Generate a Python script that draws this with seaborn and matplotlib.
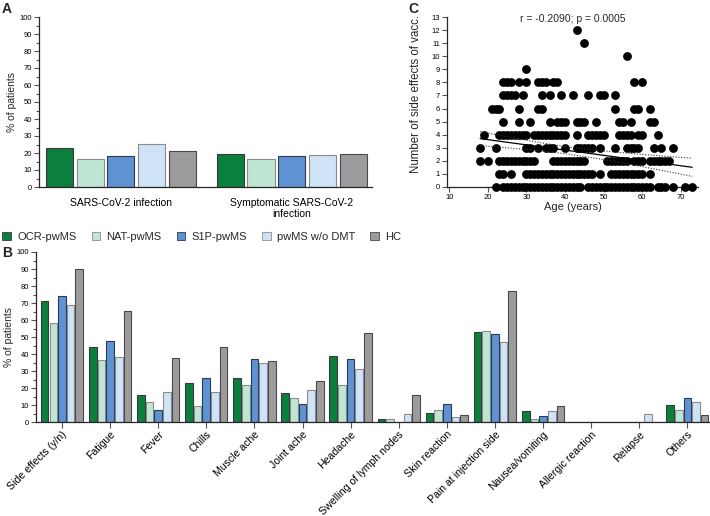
import numpy as np
import pandas as pd
import seaborn as sns
import matplotlib.pyplot as plt
from matplotlib.patches import Patch
from matplotlib.ticker import MultipleLocator

# Groups and colours
groups = ['OCR-pwMS', 'NAT-pwMS', 'S1P-pwMS', 'pwMS w/o DMT', 'HC']
colors = ['#0b7f3e', '#bfe6d3', '#5f92d3', '#cfe3f7', '#9c9c9e']
edges = ['#3a3a3a', '#8c8c8c', '#2a3a55', '#8c8c8c', '#4a4a4a']

# Panel A: SARS-CoV-2 infections (% of patients)
infection_cats = ['SARS-CoV-2 infection', 'Symptomatic SARS-CoV-2\ninfection']
infection_vals = {
    'OCR-pwMS': [23.2, 19.5],
    'NAT-pwMS': [16.5, 16.5],
    'S1P-pwMS': [18.3, 18.3],
    'pwMS w/o DMT': [25.2, 18.8],
    'HC': [21.0, 19.5],
}

# Panel B: side effects of vaccination (% of patients)
side_effect_cats = ['Side effects (y/n)', 'Fatigue', 'Fever', 'Chills', 'Muscle ache',
                    'Joint ache', 'Headache', 'Swelling of lymph nodes', 'Skin reaction',
                    'Pain at injection side', 'Nausea/vomiting', 'Allergic reaction',
                    'Relapse', 'Others']
side_effect_vals = {
    'OCR-pwMS': [71, 44.5, 16, 23, 26, 17, 39, 2, 5.5, 53, 6.5, 0, 0, 10],
    'NAT-pwMS': [58.5, 36.5, 12, 9.5, 22, 14.5, 22, 2, 7, 53.5, 2, 0, 0, 7],
    'S1P-pwMS': [74, 48, 7, 26, 37, 11, 37, 0, 11, 52, 3.5, 0, 0, 14.5],
    'pwMS w/o DMT': [69, 38.5, 17.5, 17.5, 35, 19, 31.5, 5, 3, 47, 6.5, 0, 5, 12],
    'HC': [90, 65.5, 37.5, 44, 36, 24.5, 52.5, 16, 4.5, 77, 9.5, 0, 0, 4.5],
}

# Panel C: number of side effects vs. age, ages listed per count
ages_by_count = [
    [22, 24, 25, 26, 27, 28, 29, 30, 31, 32, 33, 34, 35, 36, 37, 38, 39, 40, 41, 42,
     43, 44, 46, 47, 48, 49, 50, 51, 52, 53, 54, 55, 56, 57, 58, 59, 60, 61, 62, 64,
     65, 66, 68, 71, 73],
    [23, 24, 26, 30, 31, 32, 33, 34, 35, 36, 37, 38, 39, 40, 41, 42, 43, 44, 45, 46,
     47, 49, 52, 53, 54, 55, 56, 57, 58, 59, 60, 62],
    [18, 20, 23, 24, 25, 26, 27, 28, 29, 30, 31, 32, 37, 38, 39, 40, 41, 42, 43, 44,
     45, 51, 52, 53, 54, 55, 56, 58, 59, 60, 62, 63, 64, 65, 66, 67],
    [18, 22, 30, 31, 33, 35, 36, 37, 40, 43, 44, 45, 46, 47, 49, 53, 56, 57, 58, 59,
     63, 65, 68],
    [19, 23, 24, 25, 26, 27, 28, 29, 30, 32, 33, 34, 35, 36, 37, 38, 39, 40, 43, 46,
     47, 48, 49, 50, 54, 55, 56, 57, 59, 60, 64],
    [24, 28, 31, 36, 38, 39, 40, 43, 44, 45, 48, 54, 55, 57, 62, 63],
    [21, 22, 23, 28, 33, 34, 53, 58, 59, 62],
    [24, 25, 26, 27, 29, 34, 36, 39, 42, 46, 49, 50, 53],
    [24, 25, 26, 28, 30, 33, 34, 35, 37, 38, 58, 60],
    [30],
    [56],
    [45],
    [43],
]
corr_text = 'r = -0.2090; p = 0.0005'

# linear fit (full cohort, many overlapping points)
fit_slope = -0.040
fit_intercept = 4.41
fit_age_range = (18, 73)
ci_mean_age = 41.0        # age where the 95% band is narrowest
ci_half_at_mean = 0.28    # half-width of the band there
ci_spread = 14.0          # how fast the band widens (years)

sns.set_style('ticks')
plt.rcParams['font.family'] = ['Liberation Sans', 'DejaVu Sans']
plt.rcParams['axes.linewidth'] = 0.9
plt.rcParams['xtick.color'] = '#555555'
plt.rcParams['ytick.color'] = '#555555'
plt.rcParams['xtick.labelcolor'] = 'black'
plt.rcParams['ytick.labelcolor'] = 'black'

W, H = 710, 516
fig = plt.figure(figsize=(W / 100, H / 100), dpi=100)


def px_axes(left, top, right, bottom):
    return fig.add_axes([left / W, 1 - bottom / H, (right - left) / W, (bottom - top) / H])


def long_table(cats, vals):
    rows = []
    for g in groups:
        for c, v in zip(cats, vals[g]):
            rows.append({'cat': c, 'group': g, 'val': v})
    return pd.DataFrame(rows)


def style_bars(ax):
    for cont, ec in zip(ax.containers, edges):
        for bar in cont:
            bar.set_edgecolor(ec)
            bar.set_linewidth(0.8)


def style_pct_axis(ax):
    ax.set_ylim(0, 100)
    ax.yaxis.set_major_locator(MultipleLocator(10))
    ax.yaxis.set_minor_locator(MultipleLocator(5))
    ax.tick_params(axis='y', which='major', length=3.5, width=0.8, labelsize=5.5, pad=1.5)
    ax.tick_params(axis='y', which='minor', length=2, width=0.8)
    ax.set_ylabel('% of patients', fontsize=7.5, labelpad=2)
    ax.set_xlabel('')
    sns.despine(ax=ax)


# ---- Panel A
axA = px_axes(39, 17, 372, 187)
dfA = long_table(infection_cats, infection_vals)
sns.barplot(data=dfA, x='cat', y='val', hue='group', palette=colors, hue_order=groups,
            width=0.9, gap=0.12, saturation=1, legend=False, ax=axA)
style_bars(axA)
style_pct_axis(axA)
axA.set_xlim(-0.48, 1.47)
axA.tick_params(axis='x', length=0, labelsize=7.5, pad=8)
for lab in axA.get_xticklabels():
    lab.set_linespacing(1.15)

# ---- Panel C
axC = px_axes(447, 17.3, 698, 186.7)
dfC = pd.DataFrame([(a, n) for n, ages in enumerate(ages_by_count) for a in ages],
                   columns=['age', 'n_side'])
sns.scatterplot(data=dfC, x='age', y='n_side', color='black', s=40, linewidth=0,
                clip_on=False, zorder=3, ax=axC)
xs = np.linspace(fit_age_range[0], fit_age_range[1], 100)
fit = fit_slope * xs + fit_intercept
ci = ci_half_at_mean * np.sqrt(1 + ((xs - ci_mean_age) / ci_spread) ** 2)
axC.plot(xs, fit, color='black', lw=0.9, zorder=4)
axC.plot(xs, fit + ci, color='#333333', lw=0.8, ls=(0, (1, 1.5)), zorder=4)
axC.plot(xs, fit - ci, color='#333333', lw=0.8, ls=(0, (1, 1.5)), zorder=4)
axC.set_xlim(9.4, 74.5)
axC.set_ylim(0, 13)
axC.xaxis.set_major_locator(MultipleLocator(10))
axC.yaxis.set_major_locator(MultipleLocator(1))
axC.tick_params(axis='both', length=3.5, width=0.8, labelsize=5.5, pad=1.5)
axC.set_xlabel('Age (years)', fontsize=8, labelpad=1)
axC.set_ylabel('Number of side effects of vacc.', fontsize=8.3)
axC.yaxis.set_label_coords(-0.1, 0.545)
axC.text(0.5, 0.99, corr_text, transform=axC.transAxes, ha='center', va='center',
         fontsize=7.5)
sns.despine(ax=axC)

# ---- Panel B
axB = px_axes(36, 252, 709, 422.3)
dfB = long_table(side_effect_cats, side_effect_vals)
sns.barplot(data=dfB, x='cat', y='val', hue='group', palette=colors, hue_order=groups,
            width=0.9, gap=0.12, saturation=1, legend=False, ax=axB)
style_bars(axB)
style_pct_axis(axB)
axB.set_xlim(-0.54, 13.45)
axB.tick_params(axis='x', length=4, width=0.8, labelsize=7.6, pad=1)
plt.setp(axB.get_xticklabels(), rotation=45, ha='right', rotation_mode='anchor')

# ---- Legend
handles = [Patch(facecolor=c, edgecolor=e, linewidth=0.6) for c, e in zip(colors, edges)]
fig.legend(handles, groups, loc='center left', bbox_to_anchor=(-0.003, 1 - 237 / H),
           ncol=5, frameon=False, fontsize=8, handlelength=0.75, handleheight=0.75,
           handletextpad=0.6, columnspacing=1.35, borderaxespad=0)

# ---- Panel letters
for letter, (px, py) in zip('ABC', [(2, 9), (2, 253), (408, 9)]):
    fig.text(px / W, 1 - py / H, letter, fontsize=10, fontweight='bold', va='center')

fig.savefig('out.png', dpi=100)
